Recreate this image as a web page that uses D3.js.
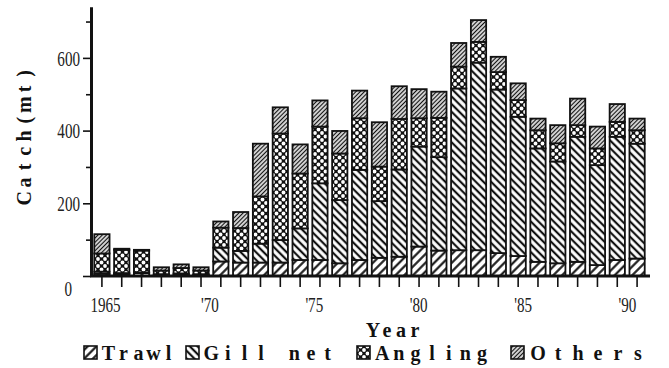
<!DOCTYPE html>
<html>
<head>
<meta charset="utf-8">
<script src="https://cdn.jsdelivr.net/npm/d3@7/dist/d3.min.js"></script>
<style>
  html, body { margin: 0; padding: 0; background: #fff; }
  svg { display: block; }
</style>
</head>
<body>
<svg id="chart" width="669" height="368"></svg>
<script>
// Annual catch (metric tons) by fishing method
const years = [1965, 1966, 1967, 1968, 1969, 1970, 1971, 1972, 1973, 1974,
               1975, 1976, 1977, 1978, 1979, 1980, 1981, 1982, 1983, 1984,
               1985, 1986, 1987, 1988, 1989, 1990, 1991, 1992];
const trawl   = [6, 5, 8, 3, 4, 3, 40, 37, 37, 37, 44, 44, 35, 44, 50, 53, 81, 70, 71, 71, 63, 55, 39, 35, 39, 30, 44, 48];
const gillNet = [6, 3, 2, 2, 3, 2, 38, 32, 52, 62, 87, 211, 174, 248, 156, 240, 275, 257, 445, 516, 450, 383, 312, 280, 344, 275, 339, 316];
const angling = [50, 64, 60, 10, 15, 10, 55, 63, 130, 293, 151, 156, 128, 142, 95, 139, 78, 108, 60, 57, 48, 46, 50, 50, 32, 46, 41, 37];
const others  = [53, 3, 2, 9, 10, 9, 17, 44, 145, 72, 80, 72, 62, 76, 122, 90, 80, 72, 65, 60, 42, 46, 32, 50, 73, 60, 49, 32];

const seriesKeys   = ["trawl", "gill", "angling", "others"];
const seriesNames  = ["Trawl", "Gill net", "Angling", "Others"];

const yearLabelValues = [1965, 1970, 1975, 1980, 1985, 1990];
const yearLabelText   = ["1965", "'70", "'75", "'80", "'85", "'90"];
const yMajorTicks = [0, 200, 400, 600];
const yMinorTicks = [100, 300, 500, 700];

const rows = years.map((yr, i) => ({
  year: yr, trawl: trawl[i], gill: gillNet[i], angling: angling[i], others: others[i]
}));

const ink = "#111";
const svg = d3.select("#chart");

// ---- hatch patterns ----
const defs = svg.append("defs");
function hatch(id, spacing, width, angle) {
  const p = defs.append("pattern")
    .attr("id", id).attr("patternUnits", "userSpaceOnUse")
    .attr("width", spacing).attr("height", spacing)
    .attr("patternTransform", `rotate(${angle})`);
  p.append("rect").attr("width", spacing).attr("height", spacing).attr("fill", "#fff");
  p.append("line").attr("x1", spacing / 2).attr("y1", 0).attr("x2", spacing / 2).attr("y2", spacing)
    .attr("stroke", ink).attr("stroke-width", width);
}
hatch("pat-trawl", 6.2, 2.1, 45);
hatch("pat-gill", 5.4, 2.2, -45);
hatch("pat-others", 3, 1.4, 45);
(function () {
  const s = 7;
  const p = defs.append("pattern")
    .attr("id", "pat-angling").attr("patternUnits", "userSpaceOnUse")
    .attr("width", s).attr("height", s);
  p.append("rect").attr("width", s).attr("height", s).attr("fill", ink);
  [[0, 0], [s, 0], [0, s], [s, s], [s / 2, s / 2]].forEach(([cx, cy]) =>
    p.append("circle").attr("cx", cx).attr("cy", cy).attr("r", 1.9).attr("fill", "#fff"));
})();
const fillFor = { trawl: "url(#pat-trawl)", gill: "url(#pat-gill)", angling: "url(#pat-angling)", others: "url(#pat-others)" };

// Fixed-pitch text: every character sits centred in its own cell
const titleFont = "'Liberation Serif', 'DejaVu Serif', serif";
function monoText(parent, str, x0, y0, pitch, size) {
  const t = parent.append("text")
    .attr("font-family", titleFont).attr("font-weight", "bold").attr("font-size", size)
    .attr("fill", ink).attr("text-anchor", "middle");
  [...str].forEach((ch, i) => {
    t.append("tspan").attr("x", x0 + i * pitch + pitch / 2).attr("y", y0)
      .text(ch === " " ? "\u00a0" : ch);
  });
  return t;
}

// ---- scales ----
const x = d3.scaleBand().domain(years).range([92, 647]).paddingInner(0.23).paddingOuter(0.115);
const y = d3.scaleLinear().domain([0, 740]).range([276, 7]);
const labelX = d3.scaleLinear().domain([1965, 1990]).range([105, 627]);

// ---- stacked bars ----
const stacked = d3.stack().keys(seriesKeys)(rows);
svg.append("g").selectAll("g")
  .data(stacked).join("g")
  .attr("fill", d => fillFor[d.key])
  .selectAll("rect")
  .data(d => d).join("rect")
  .attr("x", d => x(d.data.year))
  .attr("width", x.bandwidth())
  .attr("y", d => y(d[1]))
  .attr("height", d => y(d[0]) - y(d[1]))
  .attr("stroke", ink).attr("stroke-width", 1.8);

// ---- y axis ----
const serif = "'Liberation Serif', 'DejaVu Serif', serif";
const yMinor = svg.append("g").attr("transform", "translate(91,0)")
  .call(d3.axisLeft(y).tickValues(yMinorTicks).tickSize(5).tickSizeOuter(0).tickFormat(""));
const yMajor = svg.append("g").attr("transform", "translate(91,0)")
  .call(d3.axisLeft(y).tickValues(yMajorTicks).tickSize(8).tickSizeOuter(0));
[yMinor, yMajor].forEach(g => {
  g.select(".domain").attr("stroke", ink).attr("stroke-width", 3);
  g.selectAll(".tick line").attr("stroke", ink).attr("stroke-width", 1.6);
});
yMajor.selectAll(".tick text")
  .attr("font-family", serif).attr("font-size", 21).attr("fill", "#222")
  .attr("x", 0)
  .attr("transform", d => d === 0 ? "translate(-19,12) scale(0.72,1)" : "translate(-11,0) scale(0.72,1)")
  .attr("dy", "0.34em");

// ---- x axis ----
const xAxis = svg.append("g").attr("transform", "translate(0,276)")
  .call(d3.axisBottom(x).tickSize(11).tickSizeOuter(0).tickFormat(""));
xAxis.select(".domain").attr("stroke", ink).attr("stroke-width", 3)
  .attr("d", "M90,0H650");
xAxis.selectAll(".tick line").attr("stroke", ink).attr("stroke-width", 1.6);

const xLabels = svg.append("g").attr("transform", "translate(0,297)")
  .call(d3.axisBottom(labelX).tickValues(yearLabelValues).tickSize(0)
    .tickFormat((d, i) => yearLabelText[i]));
xLabels.select(".domain").remove();
xLabels.selectAll(".tick text")
  .attr("font-family", serif).attr("font-size", 21).attr("fill", "#222")
  .attr("y", 0).attr("dy", "0.71em")
  .attr("transform", "scale(0.72,1)");

// ---- axis titles ----
const yTitle = svg.append("g").attr("transform", "translate(31,206) rotate(-90)");
monoText(yTitle, "Catch(mt)", 0, 0, 15.6, 20);

monoText(svg, "Year", 366, 337, 14, 20);

// ---- legend ----
const legendBoxX = [84, 186, 357, 511];
const legendPitch = [15, 16.6, 16.6, 20];
const legend = svg.append("g");
seriesKeys.forEach((k, i) => {
  legend.append("rect")
    .attr("x", legendBoxX[i]).attr("y", 346).attr("width", 13).attr("height", 13)
    .attr("fill", fillFor[k]).attr("stroke", ink).attr("stroke-width", 1.6);
  monoText(legend, seriesNames[i], legendBoxX[i] + 17, 360, legendPitch[i], 20);
});
</script>
</body>
</html>
